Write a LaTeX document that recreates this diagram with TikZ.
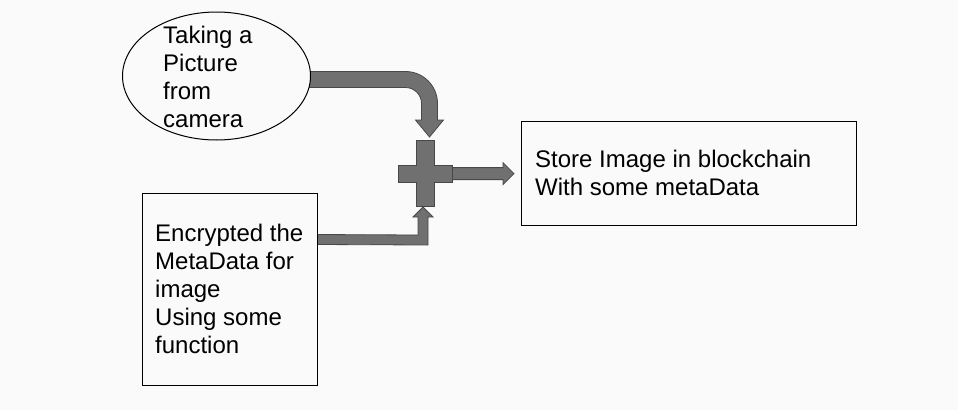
\documentclass[tikz,border=0pt]{standalone}
\usepackage{fontspec}
\setmainfont{Liberation Sans}
\usetikzlibrary{calc,shapes.geometric}
\definecolor{bgc}{RGB}{250,250,250}
\definecolor{afill}{RGB}{112,112,112}
\definecolor{aline}{RGB}{72,72,72}
\pgfdeclarelayer{back}
\pgfdeclarelayer{arrows}
\pgfsetlayers{back,arrows,main}
\tikzset{
  blockarrow/.style={fill=afill,draw=aline,line width=0.8pt,line join=miter},
  box/.style={draw=black,line width=1pt,inner sep=0pt,fill=bgc},
  txt/.style={font=\fontsize{24}{28}\selectfont,align=left,inner sep=0pt,anchor=base west,text=black}
}
\begin{document}
\begin{tikzpicture}[x=1pt,y=-1pt]
\begin{pgfonlayer}{back}
  \fill[bgc] (0,0) rectangle (958,410);
\end{pgfonlayer}
\useasboundingbox (0,0) rectangle (958,410);

% nodes (text nodes anchored at the baseline of their last line)
\node[box,ellipse,minimum width=188pt,minimum height=128pt] (cam) at (216.5,76) {};
\node[txt] (camtxt) at (163,127.2) {Taking a\\Picture\\from\\camera};
\node[box,rectangle,minimum width=175pt,minimum height=192pt] (enc) at (229.5,289) {};
\node[txt] (enctxt) at (155,353) {Encrypted the\\MetaData for\\image\\Using some\\function};
\node[box,rectangle,minimum width=335pt,minimum height=104pt] (store) at (688.5,173) {};
\node[txt] (storetxt) at (535,195) {Store Image in blockchain\\With some metaData};
\coordinate (join) at (425.4,173.6);

\begin{pgfonlayer}{arrows}
  % top curved arrow: camera -> join
  \draw[blockarrow] ($(cam.east)+(-6,-4.5)$) -- ++(100.5,0)
     arc[start angle=90,end angle=0,radius=32pt] -- ++(0,16.5) -- ++(6,0)
     -- ++(-14,17) -- ++(-14,-17) -- ++(6,0) -- ++(0,-16.5)
     arc[start angle=0,end angle=90,radius=16pt] -- ++(-100.5,0) -- cycle;
  % bottom arrow: encrypt -> join
  \draw[blockarrow] ($(enc.north east)+(-2,42)$) -- ($(join)+(-7.4,61.4)$)
     -- ($(join)+(-7.4,43.4)$) -- ($(join)+(-12.4,43.4)$) -- ($(join)+(-2.4,33.4)$)
     -- ($(join)+(7.6,43.4)$) -- ($(join)+(2.6,43.4)$) -- ($(join)+(2.6,71.4)$)
     -- ($(enc.north east)+(-2,52)$) -- cycle;
\end{pgfonlayer}

% plus (join)
\draw[blockarrow] ($(join)+(-8.8,-33)$) -- ($(join)+(8.8,-33)$) -- ($(join)+(8.8,-8.5)$)
  -- ($(join)+(27,-8.5)$) -- ($(join)+(27,8.5)$) -- ($(join)+(8.8,8.5)$)
  -- ($(join)+(8.8,33)$) -- ($(join)+(-8.8,33)$) -- ($(join)+(-8.8,8.5)$)
  -- ($(join)+(-27,8.5)$) -- ($(join)+(-27,-8.5)$) -- ($(join)+(-8.8,-8.5)$) -- cycle;

% right arrow: join -> store
\draw[blockarrow] ($(join)+(27,-6)$) -- ($(join)+(77.6,-6)$) -- ($(join)+(77.6,-11)$)
  -- ($(store.west)+(-6.5,0.6)$) -- ($(join)+(77.6,11)$) -- ($(join)+(77.6,6)$)
  -- ($(join)+(27,6)$) -- cycle;
\end{tikzpicture}
\end{document}
